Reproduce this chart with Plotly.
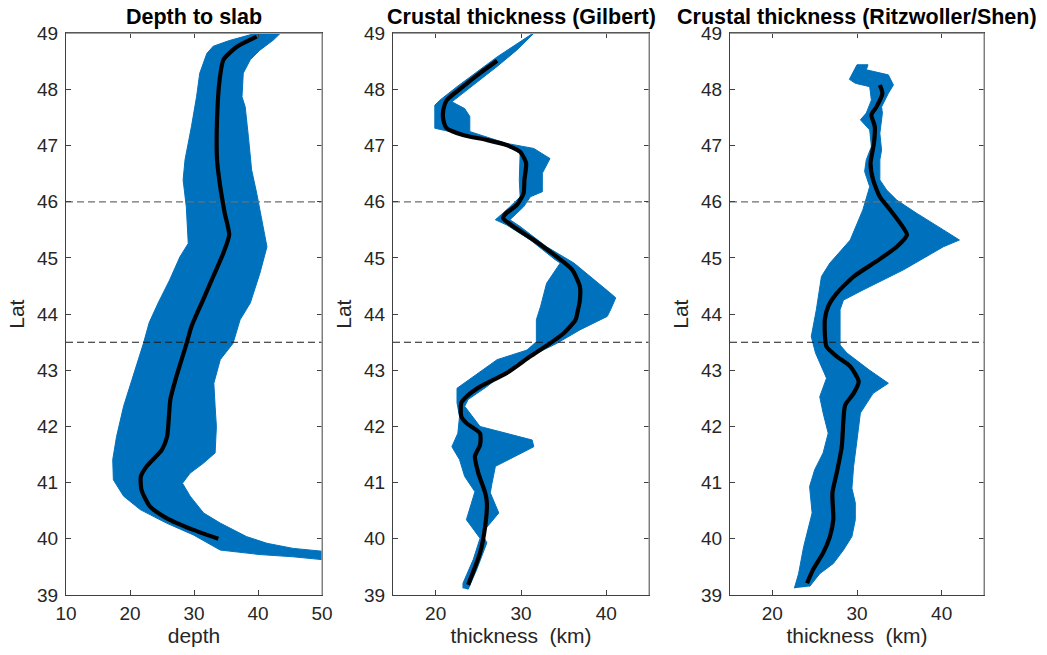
import plotly.graph_objects as go

# ---------------- data ----------------
# Depth to slab: centre line and envelope edges (lat, depth)
slab_lat = [40.0, 40.16, 40.37, 40.58, 40.87, 41.11, 41.29, 41.59, 41.82, 42.48, 42.83, 43.5,
            43.78, 44.25, 44.67, 45.09, 45.41, 45.8, 46.27, 46.75, 47.46, 48.17, 48.53, 48.76, 48.94]
slab_depth = [33.8, 29.9, 25.7, 23.1, 21.8, 21.7, 22.6, 25.0, 25.8, 26.3, 27.1, 28.9,
              29.6, 31.4, 33.0, 34.6, 35.5, 34.8, 34.1, 33.6, 33.6, 34.0, 34.6, 36.7, 39.8]
slab_lo_lat = [39.63, 39.68, 39.72, 39.8, 40.07, 40.28, 40.52, 40.76, 41.05, 41.41, 41.82, 42.36,
               42.83, 43.48, 43.85, 44.2, 44.61, 45.02, 45.26, 45.91, 46.39, 46.75, 47.34, 47.87,
               48.29, 48.64, 48.77, 48.87, 48.99]
slab_lo_depth = [50.0, 45.5, 40.3, 34.1, 29.9, 25.7, 21.6, 19.0, 17.4, 17.3, 17.9, 19.0,
                 20.3, 22.1, 23.0, 24.4, 26.2, 27.8, 29.1, 28.8, 28.3, 28.6, 29.6, 30.4,
                 30.9, 32.0, 33.0, 35.5, 39.3]
slab_hi_lat = [39.78, 39.83, 39.92, 40.04, 40.28, 40.46, 40.76, 40.99, 41.17, 41.35, 41.53, 42.0,
               42.36, 42.77, 43.19, 43.48, 43.9, 44.2, 44.73, 45.2, 45.68, 46.15, 46.57, 47.16,
               47.69, 47.87, 48.29, 48.53, 48.7, 48.88, 48.99]
slab_hi_depth = [50.0, 45.5, 41.4, 38.2, 34.1, 31.5, 29.4, 28.2, 29.4, 31.5, 33.3, 33.5,
                 33.3, 33.1, 34.1, 36.1, 37.2, 38.8, 40.3, 41.4, 40.6, 39.8, 39.0, 38.5,
                 38.0, 37.5, 37.7, 38.8, 40.3, 42.4, 43.4]

# Crustal thickness (Gilbert)
gil_lat = [39.18, 39.75, 40.22, 40.64, 40.82, 41.17, 41.47, 41.67, 41.88, 42.06, 42.18, 42.42,
           42.53, 42.71, 42.95, 43.25, 43.48, 43.66, 43.9, 44.02, 44.25, 44.49, 44.79, 45.02,
           45.32, 45.56, 45.71, 45.8, 45.94, 46.15, 46.39, 46.69, 46.89, 47.01, 47.1, 47.19,
           47.31, 47.46, 47.64, 47.81, 48.05, 48.29, 48.51]
gil_thk = [23.8, 25.2, 25.8, 26.0, 25.8, 25.0, 24.6, 25.2, 25.2, 23.6, 23.0, 23.0,
           23.6, 25.2, 28.3, 31.1, 33.4, 35.0, 36.4, 36.6, 36.9, 36.9, 36.0, 34.2,
           31.5, 29.1, 27.9, 28.3, 29.5, 30.3, 30.4, 30.6, 29.9, 28.3, 26.0, 23.2,
           21.3, 20.9, 20.9, 21.3, 23.2, 25.2, 27.2]
gil_lo_lat = [39.12, 39.21, 39.63, 40.01, 40.34, 40.84, 41.11, 41.41, 41.64, 41.88, 42.18, 42.42,
              42.68, 42.89, 43.19, 43.36, 43.51, 43.9, 44.14, 44.55, 44.91, 44.97, 45.32, 45.59,
              45.68, 45.91, 46.09, 46.39, 46.86, 47.04, 47.13, 47.25, 47.31, 47.72, 47.81, 48.05,
              48.35, 48.58, 49.03]
gil_lo_thk = [23.2, 23.2, 24.4, 25.2, 23.6, 24.6, 23.4, 22.8, 21.9, 22.6, 22.8, 22.5,
              22.5, 24.4, 27.2, 30.7, 31.8, 31.8, 32.3, 33.0, 34.6, 34.0, 31.1, 28.3,
              27.0, 28.7, 29.9, 29.8, 29.9, 27.9, 25.2, 21.3, 19.9, 19.9, 20.5, 22.5,
              25.2, 27.2, 31.7]
gil_hi_lat = [39.1, 39.45, 39.93, 40.1, 40.46, 40.82, 40.99, 41.29, 41.64, 41.76, 42.0, 42.36,
              42.48, 42.71, 43.13, 43.48, 43.72, 43.96, 44.08, 44.29, 44.37, 44.91, 45.2, 45.56,
              45.68, 45.91, 46.09, 46.18, 46.51, 46.77, 46.95, 47.04, 47.25, 47.52, 47.66, 47.78,
              47.99, 48.41, 48.7, 49.03]
gil_hi_thk = [23.8, 24.8, 26.0, 25.4, 27.4, 26.4, 26.6, 27.0, 31.5, 31.3, 25.2, 23.4,
              23.8, 26.0, 29.5, 34.2, 36.9, 40.1, 40.5, 41.1, 40.5, 36.2, 33.0, 29.9,
              28.7, 30.3, 31.1, 32.5, 32.5, 33.4, 31.5, 28.3, 24.0, 24.0, 23.4, 21.9,
              23.6, 27.2, 29.5, 31.7]

# Crustal thickness (Ritzwoller/Shen)
rs_lat = [39.21, 39.45, 39.75, 40.04, 40.34, 40.82, 41.17, 41.64, 42.12, 42.38, 42.59, 42.8,
          43.07, 43.25, 43.42, 43.9, 44.14, 44.37, 44.67, 44.94, 45.2, 45.41, 45.62, 45.86,
          46.09, 46.39, 46.69, 47.04, 47.34, 47.55, 47.69, 47.93, 48.08]
rs_thk = [24.1, 24.8, 26.0, 26.8, 27.2, 27.1, 27.6, 28.2, 28.4, 28.6, 29.6, 30.2,
          29.2, 27.6, 26.4, 26.2, 26.6, 27.6, 29.6, 32.3, 34.7, 35.9, 35.1, 33.9,
          32.7, 31.9, 31.6, 32.0, 32.1, 31.7, 32.3, 33.0, 32.7]
rs_lo_lat = [39.12, 39.38, 39.86, 40.16, 40.46, 40.93, 41.23, 41.53, 41.88, 42.24, 42.53, 42.86,
             43.31, 43.6, 44.08, 44.67, 44.91, 45.32, 45.86, 46.27, 46.54, 46.75, 46.98, 47.28,
             47.46, 47.58, 47.81, 48.05, 48.11, 48.18, 48.44]
rs_lo_thk = [22.6, 23.1, 23.7, 24.2, 24.7, 24.4, 25.0, 26.0, 26.6, 26.0, 25.6, 26.4,
             25.1, 24.6, 25.2, 25.8, 26.8, 29.2, 30.7, 31.5, 30.9, 31.1, 31.7, 31.5,
             30.4, 31.1, 31.7, 31.5, 29.8, 29.1, 30.0]
rs_hi_lat = [39.15, 39.38, 39.56, 39.8, 40.04, 40.34, 40.64, 40.9, 41.29, 41.76, 41.94, 42.24,
             42.59, 42.77, 43.0, 43.31, 43.45, 43.9, 44.08, 44.25, 44.43, 44.79, 45.2, 45.32,
             45.5, 45.8, 46.03, 46.21, 46.39, 46.75, 46.92, 47.22, 47.58, 47.69, 47.93, 48.08,
             48.26, 48.35, 48.44]
rs_hi_thk = [24.4, 25.6, 27.2, 28.4, 29.4, 29.8, 29.8, 29.4, 29.6, 30.0, 30.2, 30.4,
             31.9, 33.7, 31.5, 28.8, 28.0, 28.0, 28.0, 28.4, 30.7, 35.5, 40.2, 42.1,
             40.2, 37.0, 34.7, 33.5, 32.7, 32.7, 32.9, 32.7, 33.0, 32.9, 33.7, 34.3,
             33.7, 31.1, 31.3]

# reference latitudes drawn as dashed lines
ref_lats = [46.0, 43.5]
ref_colors = ["#6e6e6e", "#1a1a1a"]

titles = ["Depth to slab", "Crustal thickness (Gilbert)", "Crustal thickness (Ritzwoller/Shen)"]
xlabels = ["depth", "thickness\u00a0 (km)", "thickness\u00a0 (km)"]
x_ranges = [[10, 50], [15, 45], [15, 45]]
x_ticks = [[10, 20, 30, 40, 50], [20, 30, 40], [20, 30, 40]]
y_ticks = [39, 40, 41, 42, 43, 44, 45, 46, 47, 48, 49]

panels = [
    (slab_lat, slab_depth, slab_lo_lat, slab_lo_depth, slab_hi_lat, slab_hi_depth),
    (gil_lat, gil_thk, gil_lo_lat, gil_lo_thk, gil_hi_lat, gil_hi_thk),
    (rs_lat, rs_thk, rs_lo_lat, rs_lo_thk, rs_hi_lat, rs_hi_thk),
]

# ---------------- layout geometry ----------------
W, H = 1047, 655
x_domains = [[66 / W, 322 / W], [393 / W, 649 / W], [730 / W, 984 / W]]
y_domain = [1 - 595 / H, 1 - 33.3 / H]

BLUE = "#0072BD"
FONT = "Liberation Sans, Arial, Helvetica, sans-serif"
AX_DARK = "#404040"
AX_LIGHT = "#a0a0a0"
TXT = "#262626"

fig = go.Figure()
shapes = []
annotations = []

for i, (lat, val, lo_lat, lo_val, hi_lat, hi_val) in enumerate(panels):
    xa = "x" if i == 0 else f"x{i + 1}"
    ya = "y" if i == 0 else f"y{i + 1}"

    # envelope polygon: left edge upward, right edge back down
    fig.add_trace(go.Scatter(
        x=lo_val + hi_val[::-1], y=lo_lat + hi_lat[::-1],
        fill="toself", fillcolor=BLUE, mode="lines",
        line=dict(color=BLUE, width=1), xaxis=xa, yaxis=ya,
        showlegend=False, hoverinfo="skip"))

    # dashed reference latitudes
    for lat_ref, col in zip(ref_lats, ref_colors):
        fig.add_trace(go.Scatter(
            x=x_ranges[i], y=[lat_ref, lat_ref], mode="lines",
            line=dict(color=col, width=1.2, dash="7px,4px"),
            xaxis=xa, yaxis=ya, showlegend=False, hoverinfo="skip"))

    # centre line
    fig.add_trace(go.Scatter(
        x=val, y=lat, mode="lines",
        line=dict(color="black", width=4.2, shape="spline", smoothing=0.6),
        xaxis=xa, yaxis=ya, showlegend=False))

    axis_common = dict(
        showline=True, linecolor=AX_DARK, linewidth=1, mirror="ticks",
        ticks="inside", ticklen=5, tickcolor=AX_DARK, tickwidth=1,
        showgrid=False, zeroline=False, automargin=False,
        tickfont=dict(family=FONT, size=19, color=TXT),
    )
    xkey = "xaxis" if i == 0 else f"xaxis{i + 1}"
    ykey = "yaxis" if i == 0 else f"yaxis{i + 1}"
    fig.layout[xkey] = dict(
        axis_common, domain=x_domains[i], range=x_ranges[i], tickvals=x_ticks[i],
        anchor=ya, ticklabelstandoff=1,
        title=dict(text=xlabels[i], font=dict(family=FONT, size=21, color=TXT), standoff=4))
    fig.layout[ykey] = dict(
        axis_common, domain=y_domain, range=[39, 49], tickvals=y_ticks,
        anchor=xa, ticklabelstandoff=3,
        title=dict(text="Lat", font=dict(family=FONT, size=21, color=TXT), standoff=6))

    # lighter top and right box edges
    shapes.append(dict(type="line", xref=f"{xa} domain", yref=f"{ya} domain",
                       x0=0, x1=1, y0=1, y1=1, line=dict(color=AX_LIGHT, width=1.3)))
    shapes.append(dict(type="line", xref=f"{xa} domain", yref=f"{ya} domain",
                       x0=1, x1=1, y0=0, y1=1, line=dict(color=AX_LIGHT, width=1.3)))

    annotations.append(dict(
        text=f"<b>{titles[i]}</b>", x=(x_domains[i][0] + x_domains[i][1]) / 2,
        y=1 - 17 / H, xref="paper", yref="paper", xanchor="center", yanchor="middle",
        showarrow=False, font=dict(family=FONT, size=21.5, color="black")))

fig.update_layout(
    width=W, height=H, margin=dict(l=0, r=0, t=0, b=0, autoexpand=False),
    plot_bgcolor="white", paper_bgcolor="white",
    shapes=shapes, annotations=annotations, showlegend=False,
)

fig.write_html("out.html")
